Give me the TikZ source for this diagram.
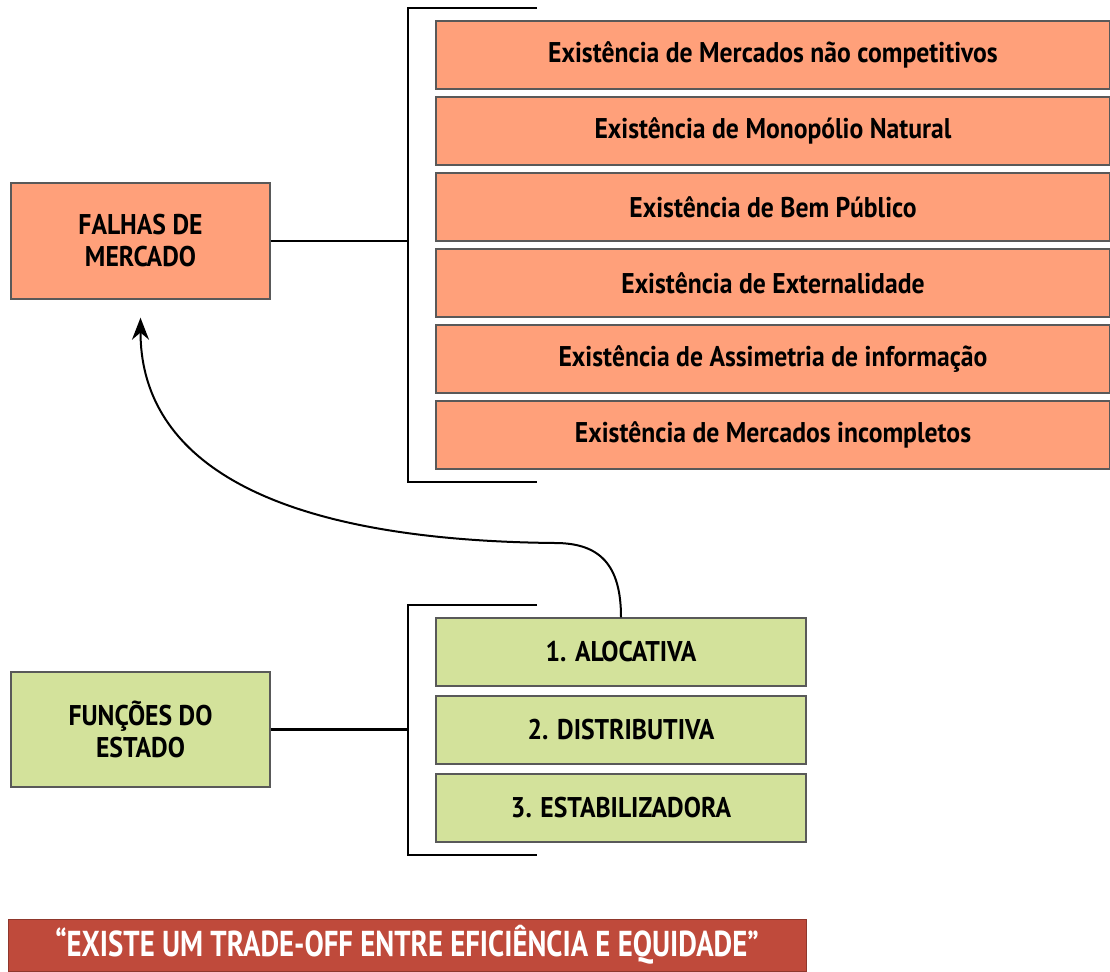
\documentclass[tikz,border=0pt]{standalone}
\usepackage{fontspec}
\newfontfamily\cond[FakeStretch=0.9]{PT Sans}
\newfontfamily\estreita[FakeStretch=0.8]{PT Sans}
\usetikzlibrary{arrows.meta,calc}
\definecolor{salmao}{HTML}{FFA07A}
\definecolor{verde}{HTML}{D3E29B}
\definecolor{tijolo}{HTML}{BF4A3B}

\begin{document}
\begin{tikzpicture}[x=1pt,y=-1pt,
  every node/.style={font=\cond\bfseries\fontsize{28.5}{32}\selectfont,inner sep=0pt,align=center},
  caixa/.style={draw=black!65,line width=1.4pt,fill=salmao,minimum height=68pt},
  funcao/.style={caixa,fill=verde,minimum width=370pt},
  chave/.style={line width=2.2pt}]
\useasboundingbox (0,0) rectangle (1110,971);

% falhas de mercado
\node[caixa,minimum width=259pt,minimum height=116pt] (falhas) at (140.5,241) {FALHAS DE\\MERCADO};
\foreach \t [count=\i] in {Existência de Mercados não competitivos,Existência de Monopólio Natural,
  Existência de Bem Público,Existência de Externalidade,Existência de Assimetria de informação,
  Existência de Mercados incompletos}
  \node[caixa,minimum width=674pt] (e\i) at (773,{55+76*(\i-1)}) {\t};
\coordinate (b1) at (408,241);
\draw[chave] (537,8) -| (408,482) -- (537,482);
\draw[chave] (falhas) -- (b1);

% funcoes do estado
\node[caixa,fill=verde,minimum width=259pt,minimum height=115pt] (funcoes) at (140.5,729.5) {FUNÇÕES DO\\ESTADO};
\foreach \t [count=\i] in {1. ALOCATIVA,2. DISTRIBUTIVA,3. ESTABILIZADORA}
  \node[funcao] (f\i) at (621,{652+78*(\i-1)}) {\t};
\coordinate (b2) at (408,729.5);
\draw[chave] (537,605) -| (408,855) -- (537,855);
\draw[chave] (funcoes) -- (b2);

% alocativa -> falhas
\draw[line width=2pt,-{Stealth[length=22pt,width=17pt]},shorten >=18pt] (f1.north)
  .. controls (621,565) and (600,543) .. (555,543)
  .. controls (250,540) and (140.5,450) .. (falhas.south);

\node[fill=tijolo,draw=tijolo!75!black,minimum width=798pt,minimum height=52pt,text=white,
  font=\estreita\bfseries\fontsize{36}{42}\selectfont] (tradeoff) at (407,945)
  {“EXISTE UM TRADE-OFF ENTRE EFICIÊNCIA E EQUIDADE”};
\end{tikzpicture}
\end{document}
